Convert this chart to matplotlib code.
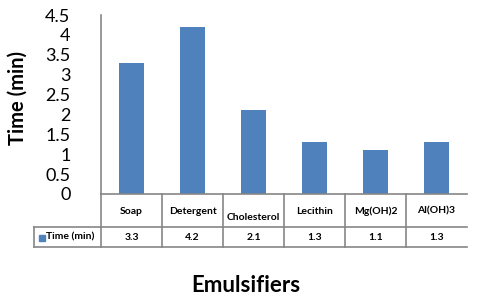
import matplotlib.pyplot as plt
from matplotlib.lines import Line2D
from matplotlib.patches import Rectangle

# data
categories = ['Soap', 'Detergent', 'Cholesterol', 'Lecithin', 'Mg(OH)2', 'Al(OH)3']
times = [3.3, 4.2, 2.1, 1.3, 1.1, 1.3]
series_name = 'Time (min)'

W, H = 478, 308
plt.rcParams['font.family'] = ['Lato', 'DejaVu Sans']
fig = plt.figure(figsize=(W / 100, H / 100), dpi=100)

# axes box in pixels
ax_l, ax_r, ax_t, ax_b = 101, 467, 15, 194
ax = fig.add_axes([ax_l / W, 1 - ax_b / H, (ax_r - ax_l) / W, (ax_b - ax_t) / H])

bar_color = '#4F81BD'
line_color = '#868686'
x = list(range(len(categories)))
ax.bar(x, times, width=0.4, color=bar_color)

ax.set_xlim(-0.5, len(categories) - 0.5)
ax.set_ylim(0, 4.5)
ax.set_yticks([i * 0.5 for i in range(10)])
ax.set_yticklabels(['0', '0.5', '1', '1.5', '2', '2.5', '3', '3.5', '4', '4.5'], fontsize=13)
ax.tick_params(axis='y', length=0, pad=22)
ax.set_xticks([])
for s in ['top', 'right']:
    ax.spines[s].set_visible(False)
ax.spines['left'].set_color(line_color)
ax.spines['bottom'].set_color(line_color)
ax.spines['left'].set_linewidth(1.2)
ax.spines['bottom'].set_linewidth(1.2)


def fx(px):
    return px / W


def fy(py):
    return 1 - py / H


def hline(x0, x1, y):
    fig.add_artist(Line2D([fx(x0), fx(x1)], [fy(y), fy(y)], color=line_color, lw=1.2))


def vline(xp, y0, y1):
    fig.add_artist(Line2D([fx(xp), fx(xp)], [fy(y0), fy(y1)], color=line_color, lw=1.2))


# data table under the axis
row1_bot, row2_bot = 227, 247
cell_w = (ax_r - ax_l) / len(categories)
vline(ax_l, ax_b, row2_bot)
vline(34, row1_bot, row2_bot)
for i in range(1, len(categories)):
    vline(ax_l + i * cell_w, ax_b, row2_bot)
hline(34, ax_r, row1_bot)
hline(34, ax_r, row2_bot)

trans = ax.get_xaxis_transform()
for i, (c, v) in enumerate(zip(categories, times)):
    ypos = 217 if c == 'Cholesterol' else 211
    ax.text(i, (ax_b - ypos) / (ax_b - ax_t), c, transform=trans, ha='center', va='center',
            fontsize=7.5, fontweight='bold', clip_on=False)
    ax.text(i, (ax_b - 237) / (ax_b - ax_t), f'{v}', transform=trans, ha='center', va='center',
            fontsize=7.5, fontweight='bold', clip_on=False)

fig.add_artist(Rectangle((fx(39), fy(241)), 6 / W, 6 / H, color=bar_color))
fig.text(fx(46), fy(237), series_name, ha='left', va='center', fontsize=7.5, fontweight='bold')

fig.text(fx(18), fy(98), 'Time (min)', rotation=90, ha='center', va='center',
         fontsize=14.5, fontweight='bold')
fig.text(fx(246), fy(285), 'Emulsifiers', ha='center', va='center',
         fontsize=16, fontweight='bold')

fig.savefig('out.png', dpi=100)
